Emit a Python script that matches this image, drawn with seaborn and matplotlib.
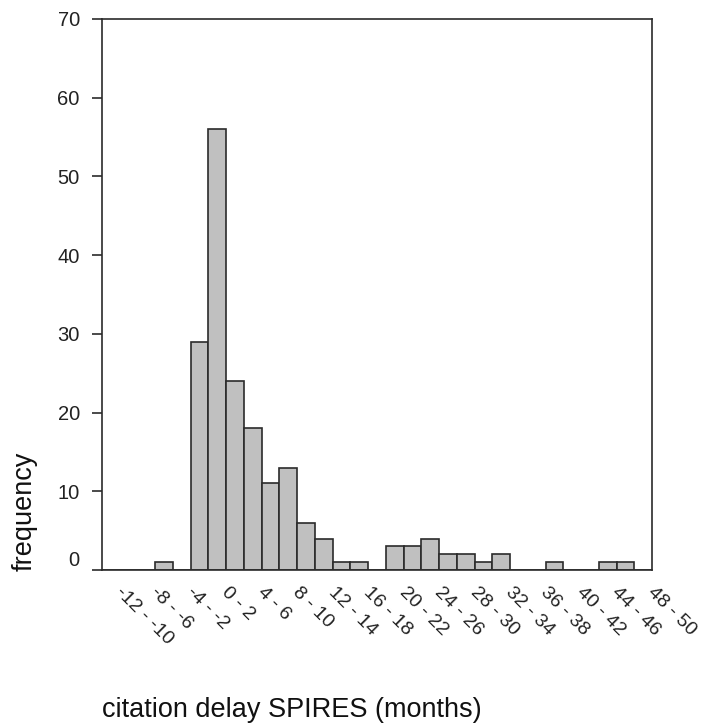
import matplotlib
matplotlib.use("Agg")
import matplotlib.pyplot as plt
import matplotlib.transforms as mtransforms
import seaborn as sns
import pandas as pd

# ---- data ----
bin_starts = list(range(-12, 50, 2))
bin_labels = [f"{s} - {s + 2}" for s in bin_starts]
frequency = [0, 0, 0, 1, 0, 29, 56, 24, 18, 11, 13, 6, 4, 1, 1, 0,
             3, 3, 4, 2, 2, 1, 2, 0, 0, 1, 0, 0, 1, 1, 0]
y_ticks = [0, 10, 20, 30, 40, 50, 60, 70]
x_title = "citation delay SPIRES (months)"
y_title = "frequency"

df = pd.DataFrame({"bin": bin_labels, "frequency": frequency})

sns.set_style("ticks")
plt.rcParams["font.family"] = ["Liberation Sans", "DejaVu Sans"]

W, H = 704, 725
fig = plt.figure(figsize=(W / 100, H / 100), dpi=100)
ax = fig.add_axes([102 / W, 1 - 570 / H, (652 - 102) / W, (570 - 19) / H])

sns.barplot(data=df, x="bin", y="frequency", order=bin_labels, ax=ax,
            color="#c0c0c0", saturation=1, width=1.0,
            edgecolor="#2b2b2b", linewidth=1.2, errorbar=None)

ax.set_xlim(-0.5, len(bin_labels) - 0.5)
ax.set_ylim(0, 70)
ax.set_yticks(y_ticks)
ax.set_yticklabels([str(v) for v in y_ticks], fontsize=14.5, color="#222222")

xt = list(range(0, len(bin_labels), 2))
ax.set_xticks(xt)
ax.set_xticklabels([bin_labels[i] for i in xt], fontsize=14, color="#222222",
                   rotation=-45, ha="left", va="center", rotation_mode="anchor")
ax.tick_params(axis="x", length=0, pad=14)
ax.tick_params(axis="y", length=7, width=1.2, color="#2b2b2b", pad=9, direction="out")

offset = mtransforms.ScaledTranslation(7 / 100, 0, fig.dpi_scale_trans)
for lab in ax.get_xticklabels():
    lab.set_transform(lab.get_transform() + offset)
# zero label sits slightly above its tick in the reference
ylabs = ax.get_yticklabels()
up = mtransforms.ScaledTranslation(0, 12 / 100, fig.dpi_scale_trans)
ylabs[0].set_transform(ylabs[0].get_transform() + up)

for s in ax.spines.values():
    s.set_visible(True)
    s.set_linewidth(1.2)
    s.set_color("#2b2b2b")

ax.set_xlabel("")
ax.set_ylabel("")
fig.text(102 / W, 1 - 717 / H, x_title, fontsize=19.5, ha="left", va="baseline",
         color="#111111")
fig.text(25 / W, 1 - 511 / H, y_title, fontsize=19.5, rotation=90,
         ha="center", va="center", color="#111111")

fig.savefig("out.png", dpi=100)
